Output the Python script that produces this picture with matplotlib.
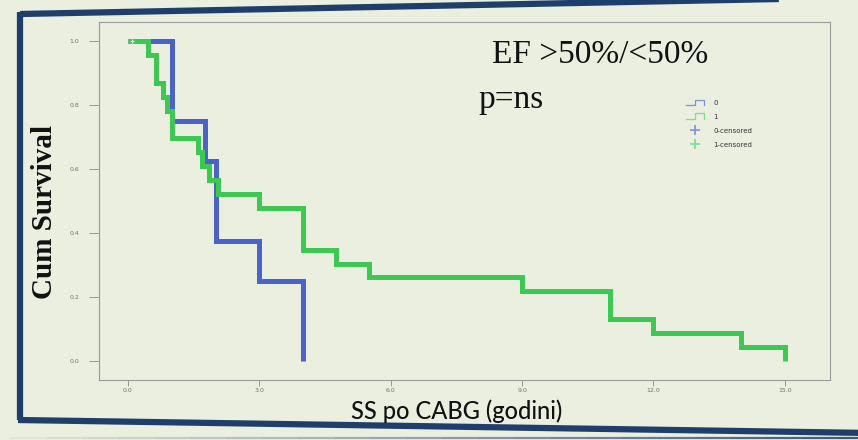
import matplotlib
matplotlib.use("Agg")
import matplotlib.pyplot as plt
from matplotlib.lines import Line2D
from matplotlib.legend_handler import HandlerBase

# ========== data ==========
blue_t = [0.0, 1.0, 1.75, 2.0, 3.0, 4.0]
blue_s = [1.0, 0.75, 0.625, 0.375, 0.25, 0.0]

green_t = [0.0, 0.45, 0.65, 0.8, 0.9, 1.0, 1.6, 1.7, 1.85, 2.05,
           3.0, 4.0, 4.75, 5.5, 9.0, 11.0, 12.0, 14.0, 15.0]
green_s = [1.0, 0.957, 0.870, 0.826, 0.783, 0.696, 0.652, 0.609, 0.565, 0.522,
           0.478, 0.348, 0.304, 0.261, 0.217, 0.130, 0.087, 0.043, 0.0]

green_cens_t = [0.1]
green_cens_s = [1.0]

x_ticks = [0, 3, 6, 9, 12, 15]
y_ticks = [0.0, 0.2, 0.4, 0.6, 0.8, 1.0]
legend_labels = ["0", "1", "0-censored", "1-censored"]

BG = "#eaefdf"
BLUE = "#4b63c6"
GREEN = "#3cc852"
FRAME = "#1f3e6b"


# ========== step icon for the legend ==========
class StepHandler(HandlerBase):
    def create_artists(self, legend, orig, xd, yd, w, h, fontsize, trans):
        xs = [xd, xd + w * 0.45, xd + w * 0.45, xd + w, xd + w]
        ys = [yd - h * 0.1, yd - h * 0.1, yd + h * 1.1, yd + h * 1.1, yd - h * 0.1]
        ln = Line2D(xs, ys, color=orig.get_color(), lw=0.9, transform=trans)
        return [ln]


fig = plt.figure(figsize=(8.58, 4.40), dpi=100, facecolor=BG)

# ========== slide frame ==========
deco = fig.add_axes([0, 0, 1, 1], zorder=0)
deco.set_xlim(0, 858)
deco.set_ylim(440, 0)
deco.axis("off")
deco.plot([20, 880], [14, -3], color=FRAME, lw=4.5, solid_capstyle="butt")
deco.plot([20, 20], [12, 420], color=FRAME, lw=4.5, solid_capstyle="butt")
deco.plot([18, 870], [420, 433], color=FRAME, lw=4.5, solid_capstyle="butt")
for i in range(24):
    x0 = 10 + i * 36
    deco.plot([x0, x0 + 36], [438.5, 438.5], color=FRAME, lw=1.6,
              alpha=0.05 + 0.035 * i, solid_capstyle="butt")

# ========== survival plot ==========
ax = fig.add_axes([99 / 858, 1 - 380 / 440, 731 / 858, 358 / 440], zorder=1)
ax.set_facecolor(BG)

ax.step(blue_t, blue_s, where="post", color=BLUE, lw=3.6,
        solid_joinstyle="miter", solid_capstyle="butt", label="0")
ax.step(green_t, green_s, where="post", color=GREEN, lw=3.6,
        solid_joinstyle="miter", solid_capstyle="butt", label="1")
ax.plot(green_cens_t, green_cens_s, "+", color="#f4f6ee", ms=3, mew=0.8)

ax.set_xlim(-0.66, 16.03)
ax.set_ylim(-0.06, 1.06)
ax.set_xticks(x_ticks)
ax.set_xticklabels([f"{v:.1f}" for v in x_ticks])
ax.set_yticks(y_ticks)
ax.set_yticklabels([f"{v:.1f}" for v in y_ticks])
ax.tick_params(axis="y", length=7, width=0.6, color="#8a8a8a", pad=7,
               labelsize=4.5, labelcolor="#707070")
ax.tick_params(axis="x", length=4, width=0.6, color="#8a8a8a", pad=2,
               labelsize=4.5, labelcolor="#707070")
for sp in ax.spines.values():
    sp.set_color("#9a9a9a")
    sp.set_linewidth(0.8)

# legend
handles = [
    Line2D([], [], color="#7f92d8"),
    Line2D([], [], color="#80dd8c"),
    Line2D([], [], color="#7f92d8", marker="+", ms=7, lw=0, mew=1.2),
    Line2D([], [], color="#80dd8c", marker="+", ms=7, lw=0, mew=1.2),
]
ax.legend(handles, legend_labels, loc="upper left",
          bbox_to_anchor=(0.795, 0.8), frameon=False, fontsize=5,
          handlelength=2.6, handletextpad=1.3, labelspacing=1.15,
          handler_map={handles[0]: StepHandler(), handles[1]: StepHandler()},
          labelcolor="#333333")

# ========== texts ==========
fig.text(600 / 858, 1 - 55 / 440, "EF >50%/<50%", ha="center", va="center",
         fontsize=24, family=["Liberation Serif", "DejaVu Serif"], color="#111111")
fig.text(478 / 858, 1 - 100 / 440, "p=ns", ha="left", va="center",
         fontsize=24, family=["Liberation Serif", "DejaVu Serif"], color="#111111")
fig.text(45 / 858, 1 - 212 / 440, "Cum Survival", ha="center", va="center",
         rotation=90, fontsize=21, fontweight="bold",
         family=["Liberation Serif", "DejaVu Serif"], color="#111111")
fig.text(457 / 858, 1 - 411 / 440, "SS po CABG (godini)", ha="center",
         va="center", fontsize=17, fontweight="medium",
         family=["Lato", "DejaVu Sans"], color="#111111")

fig.savefig("out.png", dpi=100, facecolor=BG)
